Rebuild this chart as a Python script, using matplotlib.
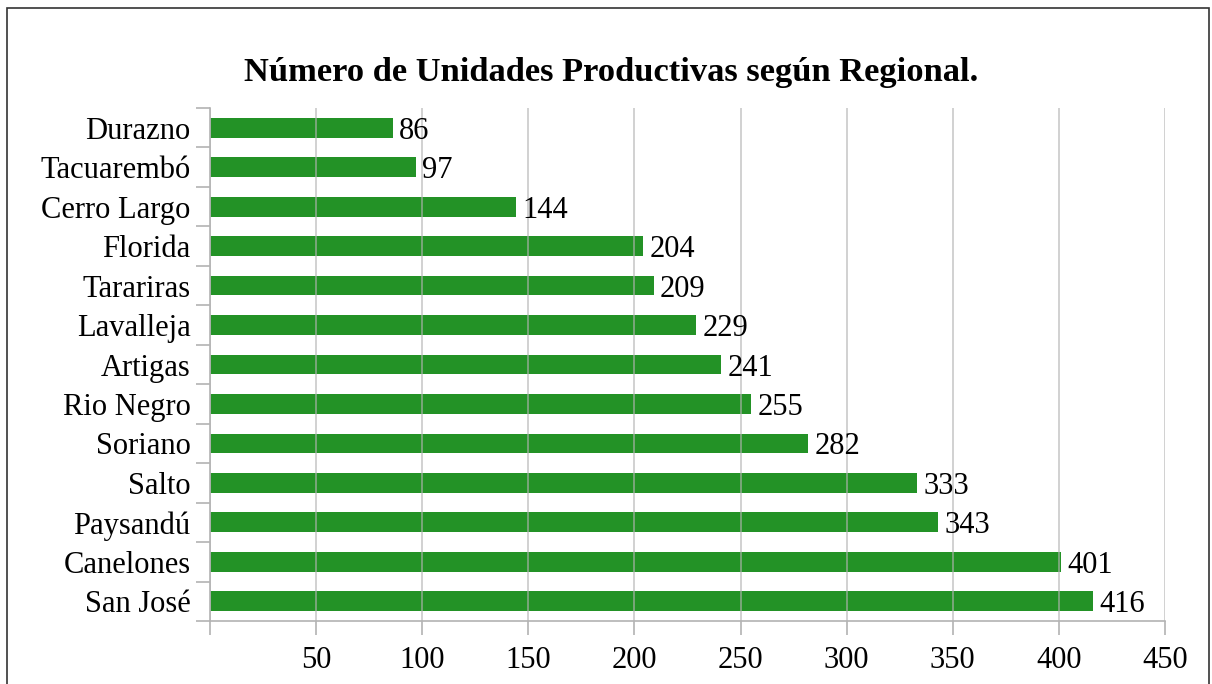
import matplotlib.pyplot as plt
from matplotlib.patches import Rectangle
from matplotlib.ticker import FixedLocator

# data (top to bottom as shown)
regionales = ['Durazno', 'Tacuarembó', 'Cerro Largo', 'Florida', 'Tarariras',
              'Lavalleja', 'Artigas', 'Rio Negro', 'Soriano', 'Salto',
              'Paysandú', 'Canelones', 'San José']
unidades = [86, 97, 144, 204, 209, 229, 241, 255, 282, 333, 343, 401, 416]
x_ticks = [0, 50, 100, 150, 200, 250, 300, 350, 400, 450]
x_labels = ['', '50', '100', '150', '200', '250', '300', '350', '400', '450']

plt.rcParams['font.family'] = ['Liberation Serif', 'DejaVu Serif']

fig = plt.figure(figsize=(12.12, 6.84), dpi=100)
ax = fig.add_axes([210 / 1212, 1 - 621 / 684, 955 / 1212, 513 / 684])

pos = list(range(len(regionales)))
ax.barh(pos, unidades, height=0.5, color='#239226', zorder=2)

for p, v in zip(pos, unidades):
    ax.text(v + 3, p, str(v), va='center_baseline', ha='left', fontsize=22, zorder=4)

ax.set_ylim(len(regionales) - 0.5, -0.5)
ax.set_xlim(0, 450)

ax.set_yticks(pos)
ax.set_yticklabels(regionales, fontsize=22, va='center_baseline')
ax.yaxis.set_minor_locator(FixedLocator([i - 0.5 for i in range(len(regionales) + 1)]))
ax.tick_params(axis='y', which='major', length=0, pad=14)
ax.tick_params(axis='y', which='minor', length=10, color='#b3b3b3', width=1.2)

ax.set_xticks(x_ticks)
ax.set_xticklabels(x_labels, fontsize=22)
ax.tick_params(axis='x', which='major', length=10, color='#b3b3b3', width=1.2, pad=8)

ax.grid(axis='x', color='#b3b3b3', linewidth=1.2, alpha=0.7, zorder=3)
ax.set_axisbelow(False)

for s in ['top', 'right']:
    ax.spines[s].set_visible(False)
for s in ['left', 'bottom']:
    ax.spines[s].set_color('#b3b3b3')
    ax.spines[s].set_linewidth(1.2)

fig.text(611 / 1212, 1 - 72 / 684, 'Número de Unidades Productivas según Regional.',
         ha='center', va='center', fontsize=24.8, fontweight='bold')

fig.patches.append(Rectangle((7 / 1212, -0.05), 1202 / 1212, 1.05 - 8 / 684,
                             transform=fig.transFigure, fill=False,
                             edgecolor='#333333', linewidth=1.2))

fig.savefig('out.png', dpi=100)
